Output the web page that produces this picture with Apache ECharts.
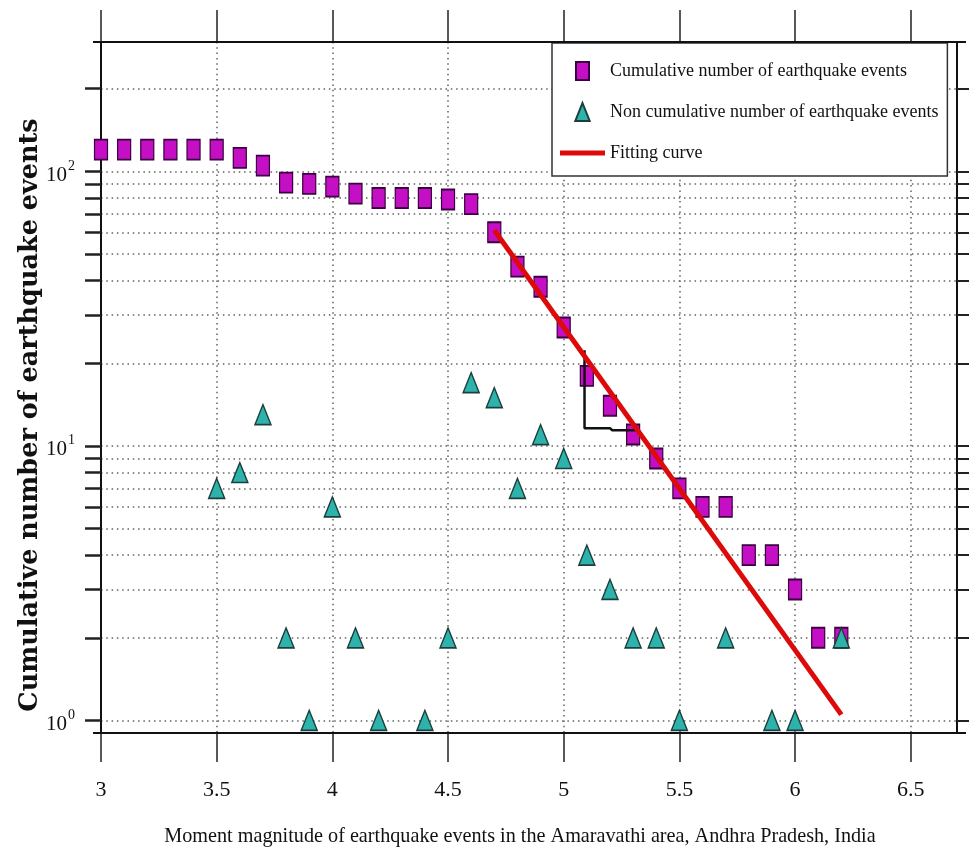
<!DOCTYPE html>
<html>
<head>
<meta charset="utf-8">
<title>Magnitude-frequency, Amaravathi</title>
<script src="https://cdn.jsdelivr.net/npm/echarts@6.0.0/dist/echarts.min.js"></script>
<style>
  html, body { margin: 0; padding: 0; background: #fff; }
  #main { width: 974px; height: 858px; }
</style>
</head>
<body>
<div id="main"></div>
<script>
// magnitude bins and counts
var magnitudes = [3.0, 3.1, 3.2, 3.3, 3.4, 3.5, 3.6, 3.7, 3.8, 3.9, 4.0, 4.1, 4.2, 4.3, 4.4, 4.5, 4.6,
                  4.7, 4.8, 4.9, 5.0, 5.1, 5.2, 5.3, 5.4, 5.5, 5.6, 5.7, 5.8, 5.9, 6.0, 6.1, 6.2];
var cumulativeCounts = [120, 120, 120, 120, 120, 120, 112, 105, 91, 90, 88, 83, 80, 80, 80, 79, 76,
                        60, 45, 38, 27, 18, 14, 11, 9, 7, 6, 6, 4, 4, 3, 2, 2];

var nonCumMagnitudes = [3.5, 3.6, 3.7, 3.8, 3.9, 4.0, 4.1, 4.2, 4.4, 4.5, 4.6, 4.7, 4.8, 4.9, 5.0,
                        5.1, 5.2, 5.3, 5.4, 5.5, 5.7, 5.9, 6.0, 6.2];
var nonCumCounts = [7, 8, 13, 2, 1, 6, 2, 1, 1, 2, 17, 15, 7, 11, 9,
                    4, 3, 2, 2, 1, 2, 1, 1, 2];

// fitted line end points
var fitMagnitudes = [4.7, 6.2];
var fitCounts = [61, 1.05];

// small slope triangle drawn under the fit
var slopeMagnitudes = [5.09, 5.09, 5.2, 5.21, 5.32];
var slopeCounts = [22.3, 11.6, 11.6, 11.4, 11.4];

var xTicks = [3, 3.5, 4, 4.5, 5, 5.5, 6, 6.5];
var yLabelTicks = [1, 10, 100];
var yTicks = [1, 2, 3, 4, 5, 6, 7, 8, 9, 10, 20, 30, 40, 50, 60, 70, 80, 90, 100, 200];

function pairs(xs, ys) {
  return xs.map(function (x, i) { return [x, ys[i]]; });
}

var serif = "'Liberation Serif', 'Times New Roman', serif";
var dotted = { color: '#626262', width: 1.5, type: [1.5, 3.8] };

var chart = echarts.init(document.getElementById('main'));
chart.setOption({
  animation: false,
  backgroundColor: '#fff',
  grid: { left: 101, right: 17, top: 42, bottom: 125 },
  legend: {
    data: [
      { name: 'Cumulative number of earthquake events', icon: 'path://M0,0 L13,0 L13,18 L0,18 Z' },
      { name: 'Non cumulative number of earthquake events', icon: 'path://M8,0 L16,20 L0,20 Z' },
      { name: 'Fitting curve', icon: 'path://M0,0 L45,0 L45,5 L0,5 Z' }
    ],
    orient: 'vertical',
    left: 552,
    top: 43,
    padding: [18, 9, 13, 8],
    itemWidth: 45,
    itemHeight: 18,
    itemGap: 21,
    symbolKeepAspect: true,
    backgroundColor: '#fff',
    borderColor: '#333',
    borderWidth: 1.5,
    selectedMode: false,
    textStyle: { fontFamily: serif, fontSize: 18, color: '#111', lineHeight: 20 }
  },
  xAxis: [{
    type: 'value',
    min: 3,
    max: 6.7,
    position: 'bottom',
    name: 'Moment magnitude of earthquake events in the Amaravathi area, Andhra Pradesh, India',
    nameLocation: 'middle',
    nameGap: 94,
    nameTextStyle: { fontFamily: serif, fontSize: 20.2, color: '#111', padding: [0, 18, 0, 0] },
    axisLine: { show: true, lineStyle: { color: '#111', width: 2 } },
    axisTick: { show: true, inside: false, length: 29, customValues: xTicks, lineStyle: { color: '#222', width: 1.5 } },
    axisLabel: { customValues: xTicks, margin: 46, fontFamily: serif, fontSize: 22, color: '#111' },
    splitLine: { show: true, lineStyle: dotted }
  }, {
    type: 'value',
    min: 3,
    max: 6.7,
    position: 'top',
    axisLine: { show: true, lineStyle: { color: '#111', width: 2 } },
    axisTick: { show: true, inside: false, length: 32, customValues: xTicks, lineStyle: { color: '#222', width: 1.5 } },
    axisLabel: { show: false },
    splitLine: { show: false }
  }],
  yAxis: [{
    type: 'log',
    logBase: 10,
    min: 0.9,
    max: 296,
    position: 'left',
    axisLine: { show: true, lineStyle: { color: '#111', width: 2 } },
    axisTick: { show: true, inside: false, length: 16, customValues: yTicks, lineStyle: { color: '#222', width: 2.5 } },
    axisLabel: {
      customValues: yLabelTicks,
      margin: 26,
      formatter: function (v) { return '{b|10}{s|' + Math.round(Math.log10(v)) + '}'; },
      rich: {
        b: { fontFamily: serif, fontSize: 21, color: '#111', padding: [8, 0, 0, 0] },
        s: { fontFamily: serif, fontSize: 14, color: '#111', padding: [0, 0, 11, 1] }
      }
    },
    splitLine: { show: true, lineStyle: dotted }
  }, {
    type: 'log',
    logBase: 10,
    min: 0.9,
    max: 296,
    position: 'right',
    axisLine: { show: true, lineStyle: { color: '#111', width: 2 } },
    axisTick: { show: true, inside: false, length: 12, customValues: yTicks, lineStyle: { color: '#222', width: 2 } },
    axisLabel: { show: false },
    splitLine: { show: false }
  }],
  graphic: [
    { type: 'line', shape: { x1: 93, y1: 42, x2: 966, y2: 42 }, style: { stroke: '#111', lineWidth: 2 }, z: 50 },
    { type: 'line', shape: { x1: 93, y1: 733, x2: 966, y2: 733 }, style: { stroke: '#111', lineWidth: 2 }, z: 50 },
    {
      type: 'text',
      x: 30,
      y: 415,
      rotation: Math.PI / 2,
      style: {
        text: 'Cumulative number of earthquake events',
        fontFamily: "'DejaVu Serif', serif",
        fontWeight: 'bold',
        fontSize: 25.5,
        fill: '#111',
        align: 'center',
        verticalAlign: 'middle'
      }
    }
  ],
  series: [{
    name: 'Cumulative number of earthquake events',
    type: 'scatter',
    data: pairs(magnitudes, cumulativeCounts),
    symbol: 'rect',
    symbolSize: [13, 20],
    itemStyle: { color: '#c40fc4', borderColor: '#3a0040', borderWidth: 1.5, opacity: 1 },
    emphasis: { disabled: true },
    z: 3
  }, {
    name: 'Non cumulative number of earthquake events',
    type: 'scatter',
    data: pairs(nonCumMagnitudes, nonCumCounts),
    symbol: 'triangle',
    symbolSize: [16, 20],
    itemStyle: { color: '#2db3ab', borderColor: '#1c3f3d', borderWidth: 1.5, opacity: 1 },
    emphasis: { disabled: true },
    z: 4
  }, {
    name: 'slope',
    type: 'line',
    data: pairs(slopeMagnitudes, slopeCounts),
    showSymbol: false,
    silent: true,
    lineStyle: { color: '#111', width: 2.5 },
    z: 5
  }, {
    name: 'Fitting curve',
    type: 'line',
    data: pairs(fitMagnitudes, fitCounts),
    showSymbol: false,
    silent: true,
    itemStyle: { color: '#dd0a0a' },
    lineStyle: { color: '#dd0a0a', width: 5 },
    z: 6
  }]
});
</script>
</body>
</html>
